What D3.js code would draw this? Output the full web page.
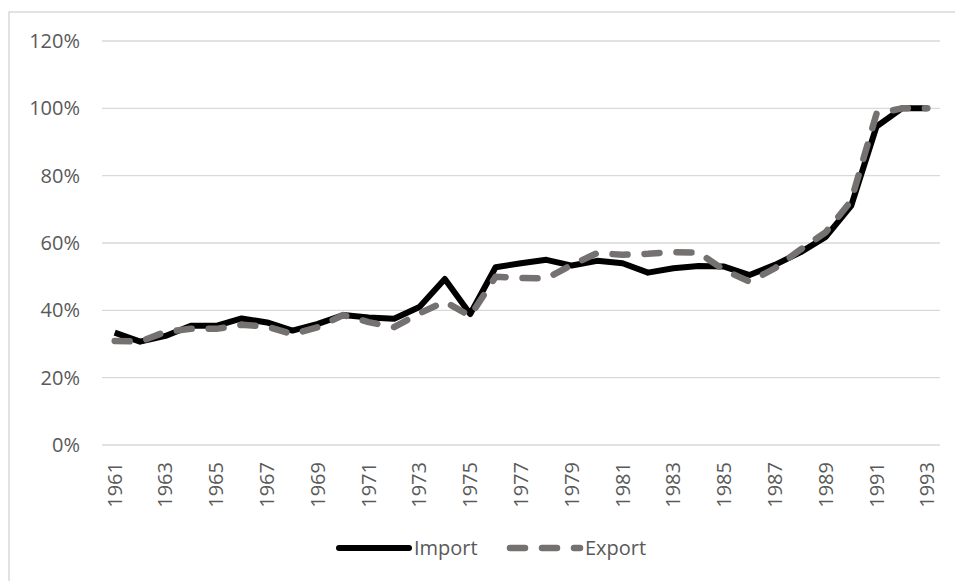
<!DOCTYPE html>
<html>
<head>
<meta charset="utf-8">
<script src="https://cdn.jsdelivr.net/npm/d3@7"></script>
<style>
  body { margin: 0; background: #fff; }
  text { font-family: "Open Sans", sans-serif; fill: #595959; }
</style>
</head>
<body>
<div id="chart"></div>
<script>
const years = d3.range(1961, 1994);
const importShare = [33.4, 30.7, 32.4, 35.4, 35.4, 37.6, 36.4, 34.0, 36.0, 38.6, 37.9, 37.5,
  41.0, 49.3, 38.9, 52.8, 54.0, 55.0, 53.3, 54.7, 54.0, 51.2, 52.5, 53.2, 53.0, 50.5,
  53.5, 57.2, 61.8, 71.0, 94.6, 100, 100];
const exportShare = [30.9, 30.7, 33.6, 34.5, 34.5, 35.7, 35.2, 32.9, 35.0, 38.6, 36.5, 35.0,
  39.1, 42.6, 38.3, 50.0, 49.6, 49.5, 53.5, 57.0, 56.5, 56.8, 57.3, 57.1, 52.0, 48.5,
  52.5, 58.0, 63.2, 72.5, 98.4, 100, 100];
const yTicks = [0, 20, 40, 60, 80, 100, 120];
const series = [
  { name: "Import", values: importShare, color: "#000000", dash: null },
  { name: "Export", values: exportShare, color: "#767171", dash: "15,17" }
];

const W = 955, H = 581;
const margin = { top: 41, right: 15, bottom: 136, left: 102 };

const svg = d3.select("#chart").append("svg")
  .attr("width", W)
  .attr("height", H);

// chart frame (runs off the right and bottom edges of the picture)
svg.append("rect")
  .attr("x", 9).attr("y", 12)
  .attr("width", 960).attr("height", 580)
  .attr("fill", "#fff")
  .attr("stroke", "#d9d9d9")
  .attr("stroke-width", 1.5);

const x = d3.scaleBand().domain(years).range([margin.left, W - margin.right]);
const y = d3.scaleLinear().domain([0, 120]).range([H - margin.bottom, margin.top]);

// gridlines
svg.append("g")
  .selectAll("line")
  .data(yTicks)
  .join("line")
  .attr("x1", margin.left).attr("x2", W - margin.right)
  .attr("y1", d => y(d)).attr("y2", d => y(d))
  .attr("stroke", "#d9d9d9")
  .attr("stroke-width", 1.3);

const yAxis = svg.append("g")
  .attr("transform", `translate(${margin.left - 22},0)`)
  .call(d3.axisLeft(y).tickValues(yTicks).tickFormat(d => d + "%").tickSize(0));
yAxis.select(".domain").remove();
yAxis.selectAll("text").attr("font-size", 20).attr("dx", 0).attr("x", 0);

const xAxis = svg.append("g")
  .attr("transform", `translate(0,${y(0)})`)
  .call(d3.axisBottom(x).tickValues(years.filter(d => (d - 1961) % 2 === 0)).tickSize(0));
xAxis.select(".domain").remove();
xAxis.selectAll("text")
  .attr("font-size", 20)
  .attr("transform", "rotate(-90)")
  .attr("text-anchor", "end")
  .attr("x", -17)
  .attr("y", 0)
  .attr("dy", "0.35em");

const line = d3.line()
  .x((d, i) => x(years[i]) + x.bandwidth() / 2)
  .y(d => y(d));

series.forEach(s => {
  svg.append("path")
    .datum(s.values)
    .attr("d", line)
    .attr("fill", "none")
    .attr("stroke", s.color)
    .attr("stroke-width", s.dash ? 6.5 : 6)
    .attr("stroke-linejoin", "round")
    .attr("stroke-linecap", s.dash ? "round" : "butt")
    .attr("stroke-dasharray", s.dash);
});

// legend
const legendY = 548;
const legendX = [339, 510];
series.forEach((s, i) => {
  const g = svg.append("g").attr("transform", `translate(${legendX[i]},${legendY})`);
  g.append("line")
    .attr("x1", 0).attr("x2", 70)
    .attr("stroke", s.color)
    .attr("stroke-width", s.dash ? 6.5 : 6)
    .attr("stroke-linecap", "round")
    .attr("stroke-dasharray", s.dash);
  g.append("text")
    .attr("x", 75)
    .attr("dy", "0.35em")
    .attr("font-size", 20)
    .text(s.name);
});
</script>
</body>
</html>
